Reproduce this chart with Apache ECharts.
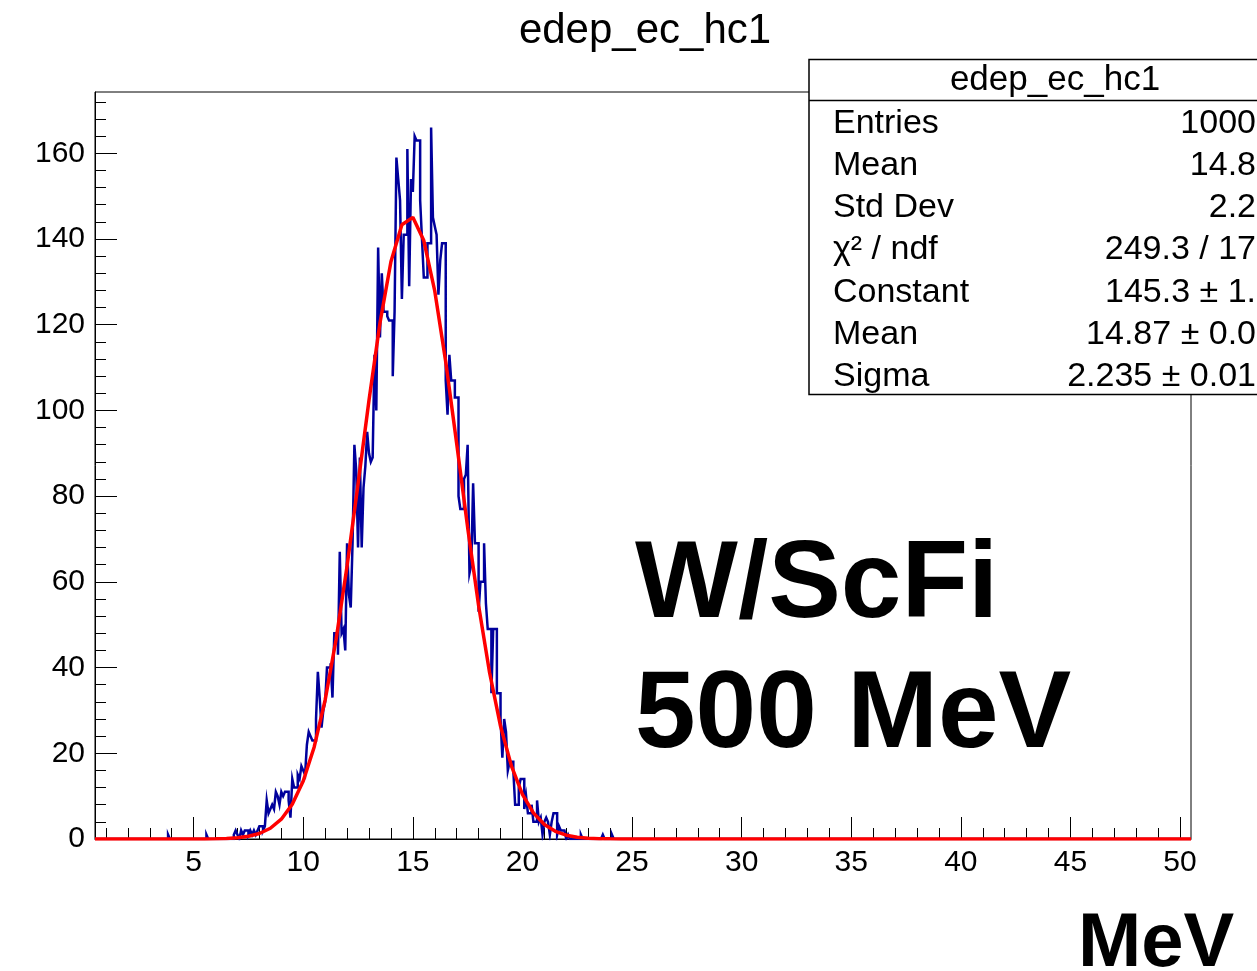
<!DOCTYPE html>
<html><head><meta charset="utf-8">
<script src="https://cdn.jsdelivr.net/npm/echarts@6/dist/echarts.min.js"></script>
<style>html,body{margin:0;padding:0;background:#fff}#c{width:1257px;height:971px}</style>
</head><body><div id="c"></div>
<script>
// ---------------- data ----------------
const histTitle = 'edep_ec_hc1';
const xMin = 0.5, xMax = 50.5, nBins = 600;
const binWidth = (xMax - xMin) / nBins;
const firstBin = 36; // index of first value in counts
const counts = [
  0,0,0,0,1,0,0,0,0,0, 0,0,0,0,0,0,0,0,0,0, 0,0,0,0,0,1,0,0,0,0, 0,0,0,0,0,0,0,0,0,0,   // bins 36-75
  1,2,1,0,2,1,2,2,1,2, 1,2,1,2,                                                         // 76-89
  3,3,2,3,9,6,7,8,7,11, 10,8,11,10,11,11,9,5,14,12,                                     // 90-109
  12,15,14,17,16,15,22,25,24,23, 23,28,39,33,26,30,32,40,40,41,                         // 110-129
  33,48,48,43,67,48,49,44,69,57, 54,69,92,86,68,89,68,82,87,95,                         // 130-149
  90,88,89,113,100,138,117,132,123,123, 122,121,121,108,123,159,154,149,126,141,        // 150-169
  141,161,129,154,151,164,163,163,149,140, 131,131,139,139,166,145,143,141,127,135,     // 170-189
  139,139,107,99,113,107,107,103,103,80, 77,77,84,85,92,62,64,83,69,69,                 // 190-209
  53,60,60,69,55,49,49,34,49,49, 34,34,28,19,28,25,16,18,18,16,                         // 210-229
  8,8,12,14,14,7,10,6,6,8, 4,4,9,4,5,1,4,5,4,1,                                         // 230-249
  4,6,6,1,3,2,2,2,0,1, 0,0,0,0,0,0,1,0,0,0,                                             // 250-269
  0,0,0,0,0,0,0,0,1,0, 0,0,0,1,0,0,0,0,0,0, 0                                           // 270-290
];
const fitConstant = 145.3, fitMean = 14.87, fitSigma = 2.235, fitPoints = 100;
const xMajorTicks = [5,10,15,20,25,30,35,40,45,50];
const xMinorTicks = [1,2,3,4,5,6,7,8,9,10,11,12,13,14,15,16,17,18,19,20,21,22,23,24,25,
  26,27,28,29,30,31,32,33,34,35,36,37,38,39,40,41,42,43,44,45,46,47,48,49,50];
const yMax = 174.3;
const yMajorTicks = [0,20,40,60,80,100,120,140,160];
const yMinorTicks = [0,4,8,12,16,20,24,28,32,36,40,44,48,52,56,60,64,68,72,76,80,84,88,92,96,
  100,104,108,112,116,120,124,128,132,136,140,144,148,152,156,160,164,168,172];
const statsLabels = ['Entries','Mean','Std Dev','\u03C7\u00B2 / ndf','Constant','Mean','Sigma'];
const statsValues = ['1000','14.8','2.2','249.3 / 17','145.3 \u00B1 1.','14.87 \u00B1 0.0','2.235 \u00B1 0.01'];
const annotationLines = ['W/ScFi','500 MeV'];
const axisTitle = 'MeV';

// ---------------- build ----------------
const FONT = '"Liberation Sans", Arial, Helvetica, sans-serif';
const histPts = [];
for (let i = 0; i < nBins; i++) {
  const k = i - firstBin;
  const c = (k >= 0 && k < counts.length) ? counts[k] : 0;
  const lo = xMin + i * binWidth, hi = xMin + (i + 1) * binWidth;
  histPts.push([lo, c], [hi, c]);
}
const fitPts = [];
for (let j = 0; j <= fitPoints; j++) {
  const x = xMin + (xMax - xMin) * j / fitPoints;
  const d = (x - fitMean) / fitSigma;
  fitPts.push([x, fitConstant * Math.exp(-0.5 * d * d)]);
}

const graphics = [];
graphics.push({type:'text', x:645, y:31, z:100, style:{text:histTitle, font:'42px ' + FONT, fill:'#000', align:'center', verticalAlign:'middle'}});
// stats box
graphics.push({type:'rect', z:100, shape:{x:809, y:59.5, width:520, height:335}, style:{fill:'#fff', stroke:'#000', lineWidth:1.5}});
graphics.push({type:'line', z:101, shape:{x1:809, y1:100.5, x2:1257, y2:100.5}, style:{stroke:'#000', lineWidth:1.5}});
graphics.push({type:'text', x:1055, y:80.5, z:102, style:{text:histTitle, font:'35px ' + FONT, fill:'#000', align:'center', verticalAlign:'middle'}});
statsLabels.forEach((t, k) => {
  const y = 123.5 + 42.2 * k;
  graphics.push({type:'text', x:833, y:y, z:102, style:{text:t, font:'34px ' + FONT, fill:'#000', align:'left', verticalAlign:'middle'}});
  graphics.push({type:'text', x:1256, y:y, z:102, style:{text:statsValues[k], font:'34px ' + FONT, fill:'#000', align:'right', verticalAlign:'middle'}});
});
annotationLines.forEach((t, k) => {
  graphics.push({type:'text', x:635, y:587 + 130 * k, z:100, style:{text:t, font:'bold 109px ' + FONT, fill:'#000', align:'left', verticalAlign:'middle'}});
});
graphics.push({type:'text', x:1078, y:945, z:100, style:{text:axisTitle, font:'bold 76px ' + FONT, fill:'#000', align:'left', verticalAlign:'middle'}});

const chart = echarts.init(document.getElementById('c'), null, {renderer:'canvas'});
const axBase = {type:'value', splitLine:{show:false}, axisLine:{show:false}};
chart.setOption({
  animation:false,
  backgroundColor:'#fff',
  grid:{left:95, top:92, width:1096, height:747, show:true, borderColor:'#000', borderWidth:1, backgroundColor:'transparent', containLabel:false},
  xAxis:[
    Object.assign({}, axBase, {min:xMin, max:xMax, position:'bottom',
      axisLine:{show:true, onZero:false, lineStyle:{color:'#000', width:1}},
      axisTick:{show:true, inside:true, length:22, customValues:xMajorTicks, lineStyle:{color:'#000', width:1}},
      axisLabel:{show:true, customValues:xMajorTicks, fontSize:30, fontFamily:FONT, color:'#000', margin:9}}),
    Object.assign({}, axBase, {min:xMin, max:xMax, position:'bottom',
      axisTick:{show:true, inside:true, length:11, customValues:xMinorTicks, lineStyle:{color:'#000', width:1}},
      axisLabel:{show:false}})
  ],
  yAxis:[
    Object.assign({}, axBase, {min:0, max:yMax, position:'left',
      axisLine:{show:true, onZero:false, lineStyle:{color:'#000', width:1}},
      axisTick:{show:true, inside:true, length:22, customValues:yMajorTicks, lineStyle:{color:'#000', width:1}},
      axisLabel:{show:true, customValues:yMajorTicks, fontSize:30, fontFamily:FONT, color:'#000', margin:10}}),
    Object.assign({}, axBase, {min:0, max:yMax, position:'left',
      axisTick:{show:true, inside:true, length:11, customValues:yMinorTicks, lineStyle:{color:'#000', width:1}},
      axisLabel:{show:false}})
  ],
  series:[
    {type:'line', xAxisIndex:0, yAxisIndex:0, data:histPts, symbol:'none', clip:true, silent:true,
     lineStyle:{color:'#00009c', width:2.5, join:'miter', cap:'butt'}, z:3},
    {type:'line', xAxisIndex:0, yAxisIndex:0, data:fitPts, symbol:'none', clip:true, silent:true,
     lineStyle:{color:'#ff0000', width:3.5}, z:4}
  ],
  graphic:{elements:graphics}
});
</script></body></html>
